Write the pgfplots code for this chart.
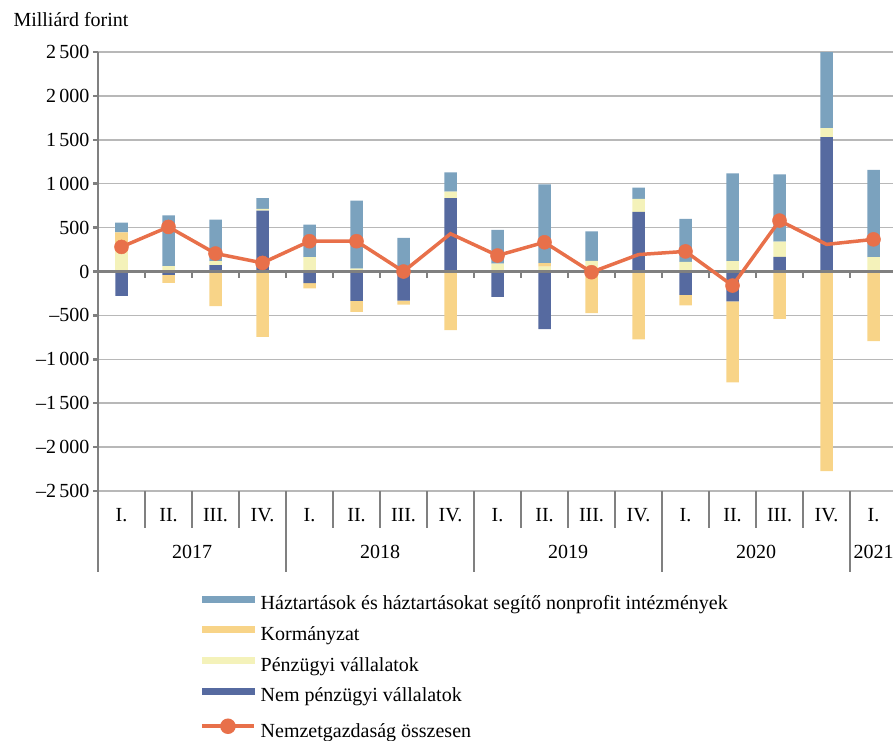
\documentclass[border=0pt]{standalone}
\usepackage{pgfplots}
\usepackage{pgfplotstable}
\pgfplotsset{compat=1.18}
\usepackage{fontspec}
\setmainfont{Liberation Serif}
\definecolor{hazcol}{HTML}{7BA2BE}
\definecolor{kormcol}{HTML}{F8D488}
\definecolor{penzcol}{HTML}{F4F2BA}
\definecolor{nemcol}{HTML}{566AA0}
\definecolor{linecol}{HTML}{E8704A}
\definecolor{axgray}{HTML}{808080}
\definecolor{grgray}{HTML}{B8B8B8}
\newcommand{\cf}{\fontsize{20pt}{24pt}\selectfont}

\pgfplotstableread{
i NP P K H L
0 -277 250 197 110 280
1 -38 61 -91 579 508
2 72 45 -395 474 205
3 693 19 -744 125 98
4 -132 163 -61 371 345
5 -335 34 -126 773 345
6 -331 15 -47 368 0
7 837 72 -668 220 430
8 -290 90 0 383 182
9 -655 55 40 897 333
10 0 120 -475 338 -8
11 678 148 -774 129 193
12 -266 110 -121 490 229
13 -340 118 -924 1000 -160
14 168 172 -540 767 580
15 1531 103 -2274 950 309
16 0 164 -794 993 366
}\data

\pgfplotsset{
  base/.style={at={(0pt,0pt)}, anchor=south west, scale only axis,
    width=795pt, height=439pt, xmin=-0.5, xmax=16.4149, ymin=-2500, ymax=2500},
}

\begin{document}
\begin{tikzpicture}[font=\cf]
\useasboundingbox (-98pt,-249pt) rectangle (795pt,491pt);
\node[anchor=base west, font=\cf] at (-88pt,464pt) {Milliárd forint};
% positive parts
\begin{axis}[base, ybar stacked, bar width=12.5pt,
  axis x line=none, axis y line=left,
  axis line style={-, draw=axgray, line width=2.5pt},
  ytick={-2500,-2000,...,2500},
  yticklabels={–2\,500,–2\,000,–1\,500,–1\,000,–500,0,500,1\,000,1\,500,2\,000,2\,500},
  ymajorgrids, grid style={grgray, line width=1.5pt},
  tick align=outside, major tick length=5pt, tick style={axgray, line width=2.5pt},
  yticklabel style={font=\cf},
]
\addplot[fill=nemcol, draw=none] table[x=i, y expr={max(\thisrow{NP},0)}] {\data};
\addplot[fill=penzcol, draw=none] table[x=i, y expr={max(\thisrow{P},0)}] {\data};
\addplot[fill=kormcol, draw=none] table[x=i, y expr={max(\thisrow{K},0)}] {\data};
\addplot[fill=hazcol, draw=none] table[x=i, y expr={max(\thisrow{H},0)}] {\data};
\end{axis}
% negative parts
\begin{axis}[base, ybar stacked, bar width=12.5pt, hide axis]
\addplot[fill=nemcol, draw=none] table[x=i, y expr={min(\thisrow{NP},0)}] {\data};
\addplot[fill=penzcol, draw=none] table[x=i, y expr={min(\thisrow{P},0)}] {\data};
\addplot[fill=kormcol, draw=none] table[x=i, y expr={min(\thisrow{K},0)}] {\data};
\addplot[fill=hazcol, draw=none] table[x=i, y expr={min(\thisrow{H},0)}] {\data};
\end{axis}
% line, axis at zero, category labels, legend
\begin{axis}[base, hide axis, clip=false,
  legend style={at={(axis description cs:0.1283,-0.238)}, anchor=north west,
    draw=none, fill=none, inner sep=0pt, row sep=11.5pt, font=\cf,
    nodes={inner sep=0pt, text height=14pt, text depth=5pt},
    /tikz/every odd column/.append style={column sep=5pt}},
  legend cell align=left,
]
\addplot[forget plot, axgray, line width=3pt] coordinates {(-0.5,0) (16.4149,0)};
\pgfplotsinvokeforeach{0.5,1.5,...,15.5}{\draw[axgray, line width=2.5pt] (axis cs:#1,0) -- ++(0pt,-6pt);}
\pgfplotsinvokeforeach{0.5,1.5,2.5,4.5,5.5,6.5,8.5,9.5,10.5,12.5,13.5,14.5}{\draw[axgray, line width=2pt] (axis cs:#1,-2500) -- ++(0pt,-37pt);}
\pgfplotsinvokeforeach{3.5,7.5,11.5,15.5}{\draw[axgray, line width=2pt] (axis cs:#1,-2500) -- ++(0pt,-81pt);}
\draw[axgray, line width=2.5pt] (axis cs:-0.5,-2500) -- ++(0pt,-81pt);
\node[yshift=-24pt] at (axis cs:0,-2500) {I.};
\node[yshift=-24pt] at (axis cs:1,-2500) {II.};
\node[yshift=-24pt] at (axis cs:2,-2500) {III.};
\node[yshift=-24pt] at (axis cs:3,-2500) {IV.};
\node[yshift=-24pt] at (axis cs:4,-2500) {I.};
\node[yshift=-24pt] at (axis cs:5,-2500) {II.};
\node[yshift=-24pt] at (axis cs:6,-2500) {III.};
\node[yshift=-24pt] at (axis cs:7,-2500) {IV.};
\node[yshift=-24pt] at (axis cs:8,-2500) {I.};
\node[yshift=-24pt] at (axis cs:9,-2500) {II.};
\node[yshift=-24pt] at (axis cs:10,-2500) {III.};
\node[yshift=-24pt] at (axis cs:11,-2500) {IV.};
\node[yshift=-24pt] at (axis cs:12,-2500) {I.};
\node[yshift=-24pt] at (axis cs:13,-2500) {II.};
\node[yshift=-24pt] at (axis cs:14,-2500) {III.};
\node[yshift=-24pt] at (axis cs:15,-2500) {IV.};
\node[yshift=-24pt] at (axis cs:16,-2500) {I.};
\node[yshift=-61pt] at (axis cs:1.5,-2500) {2017};
\node[yshift=-61pt] at (axis cs:5.5,-2500) {2018};
\node[yshift=-61pt] at (axis cs:9.5,-2500) {2019};
\node[yshift=-61pt] at (axis cs:13.5,-2500) {2020};
\node[yshift=-61pt] at (axis cs:16,-2500) {2021};
\addlegendimage{legend image code/.code={\fill[hazcol] (0pt,3.5pt) rectangle (52pt,9.5pt);}}
\addlegendentry{Háztartások és háztartásokat segítő nonprofit intézmények}
\addlegendimage{legend image code/.code={\fill[kormcol] (0pt,3.5pt) rectangle (52pt,9.5pt);}}
\addlegendentry{Kormányzat}
\addlegendimage{legend image code/.code={\fill[penzcol] (0pt,3.5pt) rectangle (52pt,9.5pt);}}
\addlegendentry{Pénzügyi vállalatok}
\addlegendimage{legend image code/.code={\fill[nemcol] (0pt,3.5pt) rectangle (52pt,9.5pt);}}
\addlegendentry{Nem pénzügyi vállalatok}
\addplot[linecol, line width=3.5pt, mark=*, mark size=7pt,
  mark options={solid, fill=linecol, draw=linecol, line width=0.5pt},
  mark indices={1,2,3,4,5,6,7,9,10,11,13,14,15,17},
  legend image code/.code={\draw[linecol, line width=3.5pt] (0pt,6.5pt) -- (52pt,6.5pt); \fill[linecol] (26pt,6.5pt) circle[radius=6pt];}]
  table[x=i, y=L] {\data};
\addlegendentry{Nemzetgazdaság összesen}
\end{axis}
\end{tikzpicture}
\end{document}
